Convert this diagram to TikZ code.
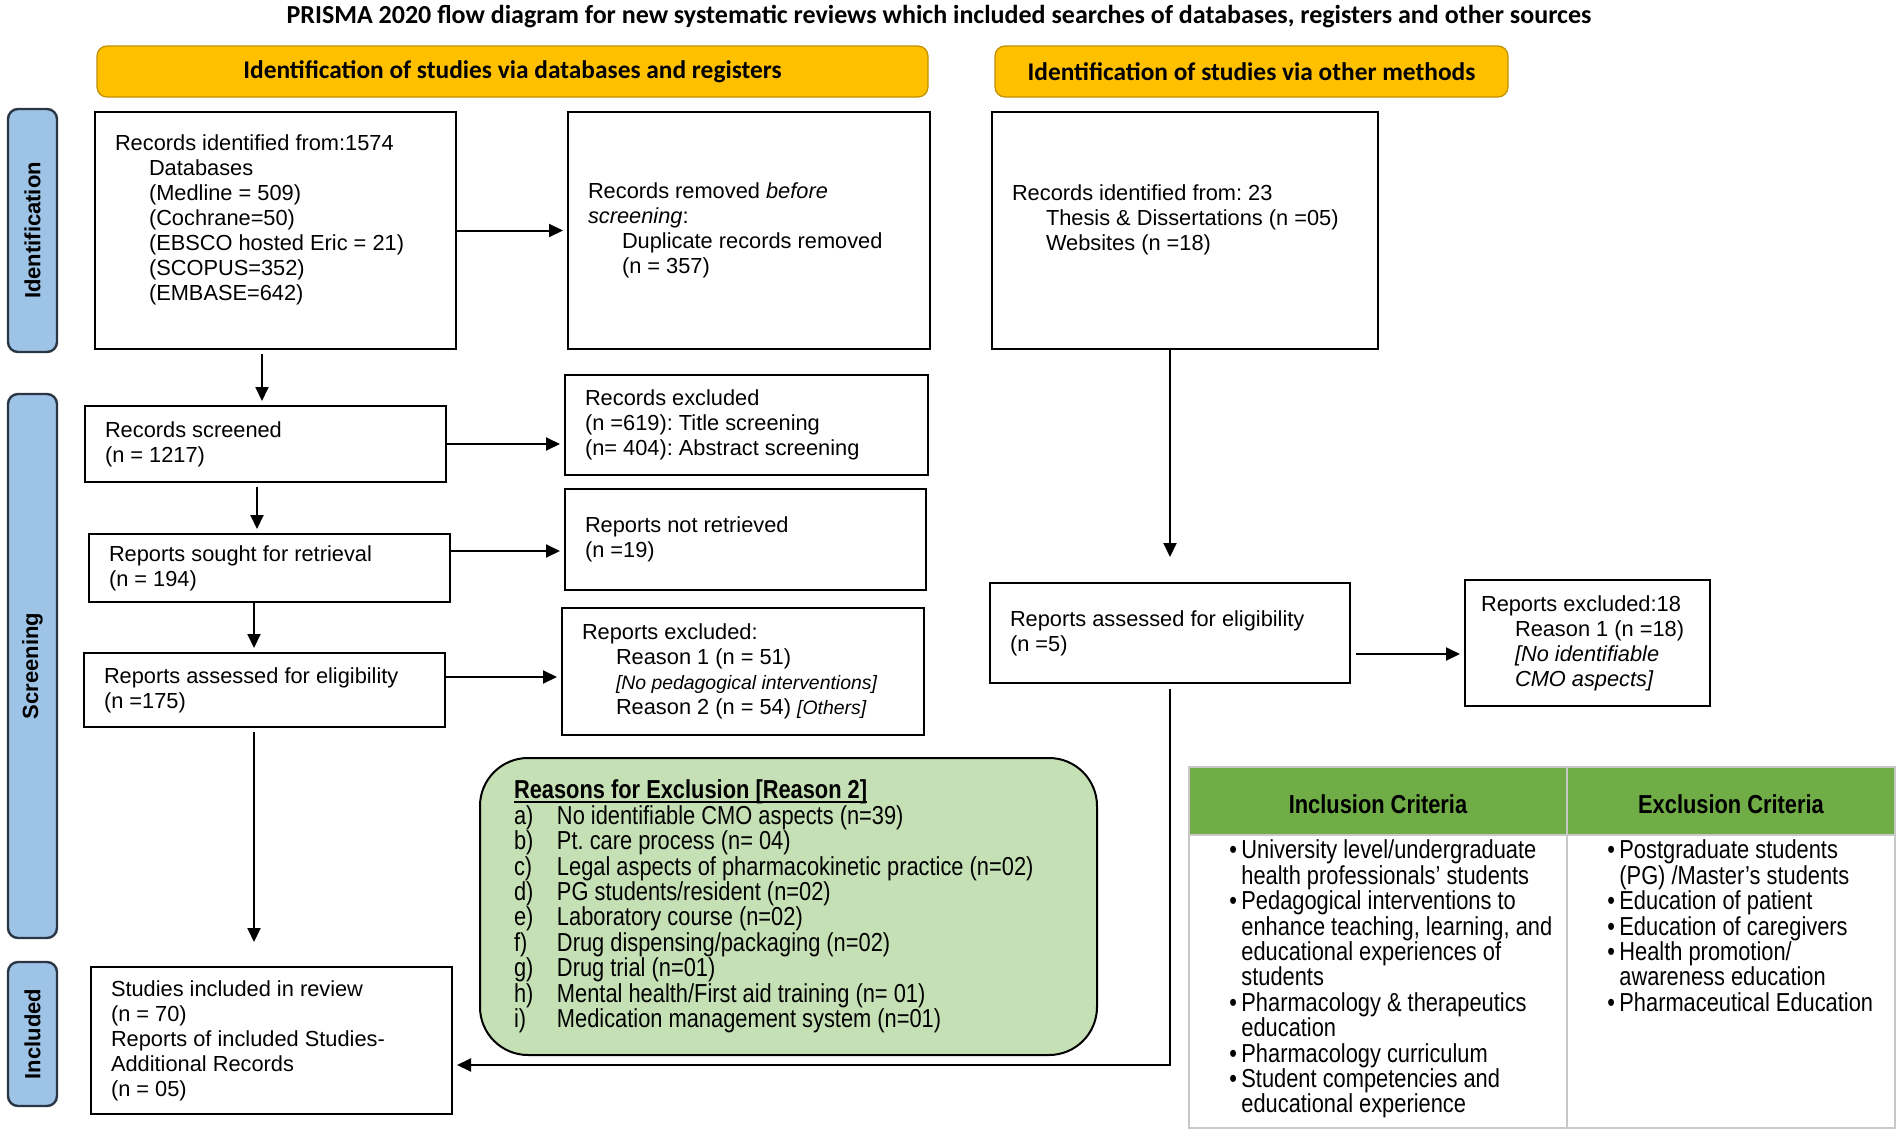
\documentclass[tikz,border=0pt]{standalone}
\usepackage{fontspec}
\setmainfont{Liberation Sans}
\newfontfamily\narrowfont[FakeStretch=0.84]{Liberation Sans}
\newfontfamily\headfont{Carlito}
\usetikzlibrary{arrows.meta}
\definecolor{barorange}{HTML}{FFC000}
\definecolor{barorangeline}{HTML}{BF9000}
\definecolor{stageblue}{HTML}{9DC3E6}
\definecolor{stageline}{HTML}{2B3644}
\definecolor{reasongreen}{HTML}{C5E0B4}
\definecolor{critgreen}{HTML}{70AD47}
\definecolor{critline}{HTML}{C8C8C8}
\newsavebox{\ulbox}
\newcommand{\indt}{\hspace*{17pt}}
\newcommand{\uln}[1]{\sbox{\ulbox}{#1}\usebox{\ulbox}\llap{\rule[-1.8pt]{\wd\ulbox}{0.7pt}}}
\newcommand{\crit}[1]{\par\hangindent=6pt\hangafter=1\noindent\makebox[6pt][l]{\textbullet}#1}
\newcommand{\rsn}[2]{\makebox[21.5pt][l]{#1)}#2}
\begin{document}
\frenchspacing
\begin{tikzpicture}[x=0.5pt, y=-0.5pt,
  natural/.style={execute at begin node={\spaceskip=0pt\xspaceskip=0pt\relax}},
  prbox/.style={draw, line width=1pt, align=left, natural, inner xsep=10pt, inner ysep=0pt, font=\fontsize{10.9}{12.5}\selectfont},
  narrow/.style={align=left, natural, font=\narrowfont\fontsize{13}{12.7}\selectfont},
  stage/.style={draw=stageline, line width=1.2pt, fill=stageblue, rounded corners=5pt, rotate=90, inner sep=0pt, minimum height=24.5pt, font=\bfseries\fontsize{11}{13}\selectfont},
  phase/.style={draw=barorangeline, line width=0.6pt, fill=barorange, rounded corners=5pt, inner sep=0pt, minimum height=25.5pt, font=\headfont\bfseries\fontsize{12.7}{15}\selectfont},
  arr/.style={-{Triangle[length=7pt,width=6.5pt]}, line width=1pt, shorten >=2pt}]
\useasboundingbox (0,0) rectangle (1902,1135);
\node[font=\headfont\bfseries\fontsize{13}{15}\selectfont] (title) at (939,17) {PRISMA 2020 flow diagram for new systematic reviews which included searches of databases, registers and other sources};
\node[phase, minimum width=415.5pt] (dbhead) at (512.5,71.5) {Identification of studies via databases and registers};
\node[phase, minimum width=256.5pt] (othhead) at (1251.5,71.5) {Identification of studies via other methods};
\node[stage, minimum width=121.5pt] (ident) at (32.5,230.5) {Identification};
\node[stage, minimum width=272pt] (screen) at (32.5,666) {Screening};
\node[stage, minimum width=72pt] (incl) at (32.5,1034) {Included};
\node[prbox, text width=160.5pt, minimum height=118.5pt] (recdb) at (275.5,230.5) {Records identified from:1574\\ \indt Databases\\ \indt (Medline = 509)\\ \indt (Cochrane=50)\\ \indt (EBSCO hosted Eric = 21)\\ \indt (SCOPUS=352)\\ \indt (EMBASE=642)\\ \mbox{}};
\node[prbox, text width=161pt, minimum height=118.5pt] (removed) at (749,230.5) {Records removed \textit{before}\\ \textit{screening}:\\ \indt Duplicate records removed\\ \indt (n = 357)};
\node[prbox, text width=173pt, minimum height=118.5pt] (recother) at (1185,230.5) {Records identified from: 23\\ \indt Thesis \& Dissertations (n =05)\\ \indt Websites (n =18)\\ \mbox{}};
\node[prbox, text width=160.5pt, minimum height=38pt] (screened) at (265.5,444) {Records screened\\ (n = 1217)};
\node[prbox, text width=161.5pt, minimum height=50pt] (recexcl) at (746.5,425) {Records excluded\\ (n =619): Title screening\\ (n= 404): Abstract screening};
\node[prbox, text width=160.5pt, minimum height=34pt] (sought) at (269.5,568) {Reports sought for retrieval\\ (n = 194)};
\node[prbox, text width=160.5pt, minimum height=50.5pt] (notretr) at (745.5,539.5) {Reports not retrieved\\ (n =19)};
\node[prbox, text width=160.5pt, minimum height=37pt] (assessed) at (264.5,690) {Reports assessed for eligibility\\ (n =175)};
\node[prbox, text width=161pt, minimum height=63.5pt] (repexcl) at (743,671.5) {Reports excluded:\\ \indt Reason 1 (n = 51)\\ \indt {\fontsize{9.7}{11}\selectfont\textit{[No pedagogical interventions]}}\\ \indt Reason 2 (n = 54) {\fontsize{9.7}{11}\selectfont\textit{[Others]}}};
\node[prbox, text width=160.5pt, minimum height=73.5pt] (included) at (271.5,1040.5) {Studies included in review\\ (n = 70)\\ Reports of included Studies-\\ Additional Records\\ (n = 05)};
\node[prbox, text width=160pt, minimum height=50pt] (assessed2) at (1170,633) {Reports assessed for eligibility\\ (n =5)};
\node[prbox, inner xsep=8pt, text width=106.5pt, minimum height=63pt] (repexcl2) at (1587.5,643) {Reports excluded:18\\ \indt Reason 1 (n =18)\\ \indt \textit{[No identifiable}\\ \indt \textit{CMO aspects]}};
\node[narrow, draw, line width=1pt, fill=reasongreen, rounded corners=24pt, text width=274.5pt, inner xsep=17pt, inner ysep=0pt, minimum height=148.5pt] (reasons) at (788.5,906.5) {\uln{\textbf{Reasons for Exclusion [Reason 2]}}\\ \rsn{a}{No identifiable CMO aspects (n=39)}\\ \rsn{b}{Pt. care process (n= 04)}\\ \rsn{c}{Legal aspects of pharmacokinetic practice (n=02)}\\ \rsn{d}{PG students/resident (n=02)}\\ \rsn{e}{Laboratory course (n=02)}\\ \rsn{f}{Drug dispensing/packaging (n=02)}\\ \rsn{g}{Drug trial (n=01)}\\ \rsn{h}{Mental health/First aid training (n= 01)}\\ \rsn{i}{Medication management system (n=01)}};
\fill[critgreen] (1189,767) rectangle (1895,835);
\draw[critline, line width=1pt] (1189,767) rectangle (1895,1128) (1567,767) -- (1567,1128) (1189,835) -- (1895,835);
\node[font=\narrowfont\bfseries\fontsize{13}{15}\selectfont] (inhead) at (1378,804) {Inclusion Criteria};
\node[font=\narrowfont\bfseries\fontsize{13}{15}\selectfont] (exhead) at (1731,804) {Exclusion Criteria};
\node[narrow, anchor=north west, inner sep=0pt, text width=170pt] (inlist) at (1229,833) {\crit{University level/undergraduate\newline health professionals’ students}\crit{Pedagogical interventions to\newline enhance teaching, learning, and\newline educational experiences of\newline students}\crit{Pharmacology \& therapeutics\newline education}\crit{Pharmacology curriculum}\crit{Student competencies and\newline educational experience}\par};
\node[narrow, anchor=north west, inner sep=0pt, text width=140pt] (exlist) at (1607,833) {\crit{Postgraduate students\newline (PG) /Master’s students}\crit{Education of patient}\crit{Education of caregivers}\crit{Health promotion/\newline awareness education}\crit{Pharmaceutical Education}\par};
\draw[arr] (recdb.east) -- (removed.west);
\draw[arr, shorten <=2pt] ([xshift=-6.75pt]recdb.south) -- ([xshift=-6.75pt]recdb.south |- screened.north);
\draw[arr] (screened.east) -- (screened.east -| recexcl.west);
\draw[arr, shorten <=2pt] ([xshift=-4.25pt]screened.south) -- ([xshift=-4.25pt]screened.south |- sought.north);
\draw[arr] ([yshift=-5.75pt]notretr.west -| sought.east) -- ([yshift=-5.75pt]notretr.west);
\draw[arr] ([xshift=-7.75pt]sought.south) -- ([xshift=-7.75pt]sought.south |- assessed.north);
\draw[arr] ([yshift=-2.75pt]repexcl.west -| assessed.east) -- ([yshift=-2.75pt]repexcl.west);
\draw[arr, shorten <=2pt, shorten >=12pt] ([xshift=-5.25pt]assessed.south) -- ([xshift=-5.25pt]assessed.south |- included.north);
\draw[arr, shorten >=12.5pt] (recother.south -| assessed2.north) -- (assessed2.north);
\draw[arr, shorten <=2.5pt] ([yshift=-10.5pt]assessed2.east) -- ([yshift=-10.5pt]assessed2.east -| repexcl2.west);
\draw[arr, shorten <=2.5pt] (assessed2.south) |- ([yshift=-12.25pt]included.east);
\end{tikzpicture}
\end{document}
